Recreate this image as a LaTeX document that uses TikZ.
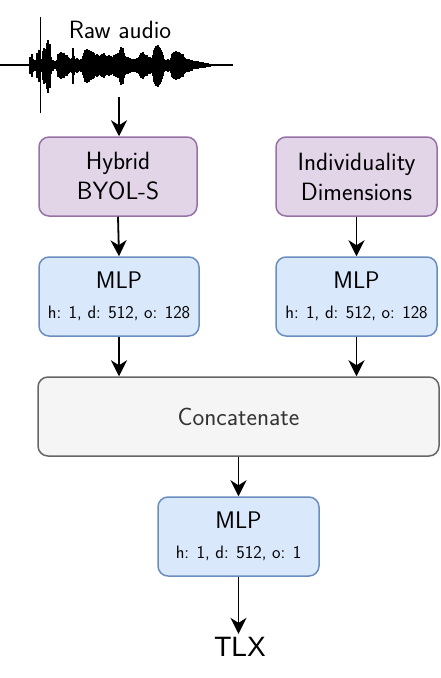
\documentclass[tikz,border=0pt]{standalone}
\usepackage{fontspec}
\newfontfamily\arialf{Liberation Sans}
\usetikzlibrary{arrows.meta}
\definecolor{purpF}{HTML}{E1D5E7}
\definecolor{purpD}{HTML}{9673A6}
\definecolor{blueF}{HTML}{DAE8FC}
\definecolor{blueD}{HTML}{6C8EBF}
\definecolor{grayF}{HTML}{F5F5F5}
\definecolor{grayD}{HTML}{666666}
\definecolor{grayT}{HTML}{333333}
\begin{document}
\begin{tikzpicture}[x=1pt,y=-1pt,
  box/.style={draw, line width=1.5pt, rounded corners=10pt, minimum height=79pt, inner sep=0pt, align=center, font=\sffamily\fontsize{25}{30}\selectfont},
  purp/.style={box, fill=purpF, draw=purpD, minimum width=158pt},
  mlp/.style={box, fill=blueF, draw=blueD, minimum width=160pt, font=\sffamily\fontsize{24}{30}\selectfont},
  conn/.style={line width=1.8pt, -{Stealth[length=16pt,width=16pt,inset=5pt]}},
  wave/.style={line width=1.2pt, black}]
\useasboundingbox (0,0) rectangle (440,678);

% waveform
\draw[wave] (0,65) -- (233,65);
\foreach \x/\a in {29/1,30/8,31/4,32/11,33/6,34/3,35/5,36/2,37/12,38/7,39/15,40/9,41/4,42/6,43/14,44/17,45/12,46/16,47/22,48/25,49/18,50/21,51/8,52/4,53/5,54/3,55/4,56/3,57/5,58/11,59/8,60/12,61/13,62/12,63/11,64/12,65/10,66/9,67/10,68/8,69/7,70/6,71/5,72/7,73/17,74/9,75/6,76/5,77/7,78/6,79/5,80/4,81/6,82/5,83/9,84/12,85/15,86/13,87/16,88/14,89/15,90/13,91/14,92/11,93/13,94/12,95/10,96/8,97/11,98/10,99/9,100/8,101/10,102/11,103/9,104/12,105/10,106/8,107/9,108/8,109/10,110/8,111/9,112/7,113/8,114/10,115/9,116/11,117/10,118/12,119/11,120/15,121/18,122/16,123/17,124/12,125/9,126/8,127/7,128/8,129/6,130/7,131/6,132/5,133/6,134/5,135/6,136/5,137/7,138/6,139/8,140/10,141/12,142/11,143/13,144/11,145/10,146/9,147/10,148/8,149/7,150/8,151/6,152/7,153/10,154/15,155/17,156/19,157/18,158/20,159/18,160/17,161/15,162/13,163/10,164/6,165/4,166/5,167/3,168/6,169/5,170/4,171/7,172/11,173/12,174/13,175/12,176/14,177/13,178/12,179/13,180/12,181/11,182/10,183/11,184/8,185/7,186/6,187/6,188/5,189/6,190/5,191/5,192/5,193/4,194/4,195/4,196/4,197/4,198/4,199/3,200/3,201/3,202/3,203/3,204/2.5,205/2.5,206/2,207/2,208/2,209/1.5,210/1.5,211/1.2,212/1.2,213/1,214/1,215/0.8}
  \draw[wave] (\x,65-\a) -- (\x,65+1.1*\a);
\draw[line width=1.6pt] (40.5,17) -- (40.5,113);

\node[font=\sffamily\fontsize{25}{25}\selectfont] (raw) at (120,30) {Raw audio};
\coordinate (wav) at (119,97);

\node[purp] (byol) at (118,176.5) {Hybrid\\BYOL-S};
\node[purp, minimum width=161pt] (ind) at (356.5,176.5) {Individuality\\Dimensions};
\node[mlp] (mlp1) at (119,296.5) {MLP\\{\fontsize{18}{30}\selectfont h: 1, d: 512, o: 128}};
\node[mlp, minimum width=161pt] (mlp2) at (356.5,296.5) {MLP\\{\fontsize{18}{30}\selectfont h: 1, d: 512, o: 128}};
\node[box, fill=grayF, draw=grayD, minimum width=401pt, text=grayT] (cat) at (238.5,416.5) {Concatenate};
\node[mlp, minimum width=161pt] (mlp3) at (238.5,536.5) {MLP\\{\fontsize{18}{30}\selectfont h: 1, d: 512, o: 1}};
\node[font=\arialf\fontsize{28}{28}\selectfont] (tlx) at (240,647) {TLX};

\draw[conn] (wav) -- (wav |- byol.north);
\draw[conn] (byol.south) -- (mlp1.north);
\draw[conn] (ind.south) -- (ind.south |- mlp2.north);
\draw[conn] (mlp1.south) -- (mlp1.south |- cat.north);
\draw[conn] (mlp2.south) -- (mlp2.south |- cat.north);
\draw[conn] (cat.south -| mlp3.north) -- (mlp3.north);
\draw[conn] (mlp3.south) -- (mlp3.south |- tlx.north);
\end{tikzpicture}
\end{document}
